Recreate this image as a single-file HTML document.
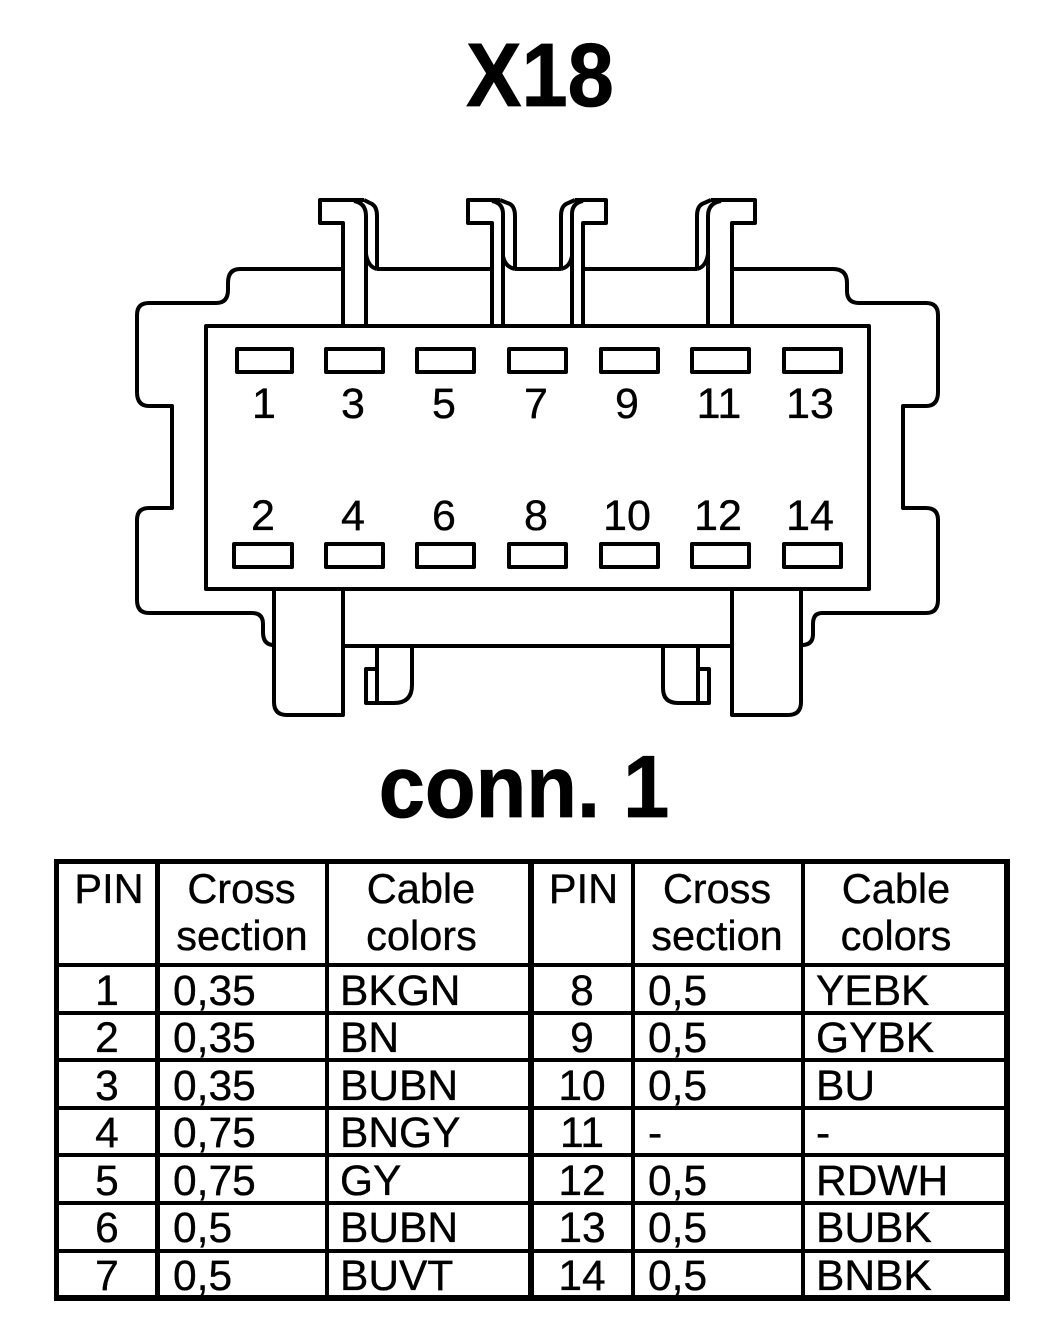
<!DOCTYPE html>
<html><head><meta charset="utf-8"><style>
html,body{margin:0;padding:0;background:#fff}
svg{display:block}
text{font-family:"Liberation Sans",Arial,sans-serif;fill:#000;stroke:#000;stroke-width:.35px}
.t{font-size:42.5px}
.n{font-size:43px;text-anchor:middle}
.c{font-size:42.5px;text-anchor:middle}
.h{font-size:41.5px;text-anchor:middle}
.b{font-size:83px;font-weight:bold;text-anchor:middle;stroke-width:.8px}
</style></head><body>
<svg width="1056" height="1342" viewBox="0 0 1056 1342" xmlns="http://www.w3.org/2000/svg">
<rect width="1056" height="1342" fill="#fff" stroke="none"/>
<text class="b" transform="translate(540,106) scale(1,1.08)">X18</text>
<text class="b" transform="translate(524,817) scale(1,1.06)">conn. 1</text>

<g fill="none" stroke="#000" stroke-width="4" stroke-linejoin="round">
<!-- outer housing -->
<path d="M343 269H240Q228 269 228 283V290Q228 303 216 303H149Q137 303 137 315V392Q137 406 149 406H172V508H149Q137 508 137 520V600Q137 613 149 613H252Q263 613 263 624V632Q263 645 274 645"/>
<path d="M732 269H833Q847 269 847 283V291Q847 303 859 303H926Q938 303 938 315V392Q938 406 926 406H903V508H926Q938 508 938 520V600Q938 613 926 613H822Q813 613 813 624V634Q813 645 802 645"/>
<path d="M377 269H492M515 269H561M583 269H697"/>
<!-- clips -->
<path d="M343 326V223H320V200H364M354 201Q366 203 366 216V326"/>
<path d="M364 200L372 204Q377 207 377 216V267M366 254Q368 267 377 269"/>
<path d="M492 326V223H468V200H500M492 201Q503 203 503 214V326"/>
<path d="M500 200L510 204Q515 207 515 216V267M503 256Q505 267 515 269"/>
<path d="M583 326V223H606V200H575M583 201Q572 203 572 214V326"/>
<path d="M575 200L566 204Q561 207 561 216V267M572 256Q570 267 561 269"/>
<path d="M732 326V223H755V200H711M721 201Q708 203 708 216V326"/>
<path d="M711 200L702 204Q697 207 697 216V267M708 254Q706 267 697 269"/>
<!-- main box -->
<rect x="206" y="326" width="663" height="263"/>
<!-- top slots -->
<rect x="237" y="349" width="55" height="23"/>
<rect x="326" y="349" width="57" height="23"/>
<rect x="417" y="349" width="57" height="23"/>
<rect x="509" y="349" width="57" height="23"/>
<rect x="601" y="349" width="57" height="23"/>
<rect x="692" y="349" width="57" height="23"/>
<rect x="784" y="349" width="57" height="23"/>
<!-- bottom slots -->
<rect x="234" y="544" width="58" height="23"/>
<rect x="326" y="544" width="57" height="23"/>
<rect x="417" y="544" width="57" height="23"/>
<rect x="509" y="544" width="57" height="23"/>
<rect x="601" y="544" width="57" height="23"/>
<rect x="692" y="544" width="57" height="23"/>
<rect x="784" y="544" width="57" height="23"/>
<!-- bottom blocks -->
<path d="M274 589V702Q274 715 287 715H343V589"/>
<path d="M732 589V715H788Q801 715 801 702V589"/>
<path d="M343 646H732"/>
<!-- tabs -->
<path d="M377 646V703M412 646V685Q412 703 394 703H366V669H377"/>
<path d="M698 646V703M663 646V688Q663 703 678 703H709V669H698"/>
</g>

<g>
<text class="n" x="264" y="418">1</text><text class="n" x="353" y="418">3</text><text class="n" x="444" y="418">5</text><text class="n" x="536" y="418">7</text><text class="n" x="627" y="418">9</text><text class="n" x="719" y="418">11</text><text class="n" x="810" y="418">13</text>
<text class="n" x="263" y="530">2</text><text class="n" x="353" y="530">4</text><text class="n" x="444" y="530">6</text><text class="n" x="536" y="530">8</text><text class="n" x="627" y="530">10</text><text class="n" x="718" y="530">12</text><text class="n" x="810" y="530">14</text>
</g>

<!-- table -->
<g fill="#000" stroke="none">
<rect x="54" y="859" width="956" height="5"/>
<rect x="54" y="1295" width="956" height="6"/>
<rect x="54" y="859" width="5" height="442"/>
<rect x="1004" y="859" width="6" height="442"/>
<rect x="155" y="859" width="5" height="442"/>
<rect x="325" y="859" width="4" height="442"/>
<rect x="528" y="859" width="6" height="442"/>
<rect x="631" y="859" width="4" height="442"/>
<rect x="801" y="859" width="4" height="442"/>
<rect x="54" y="963" width="956" height="4"/>
<rect x="54" y="1011" width="956" height="4"/>
<rect x="54" y="1058" width="956" height="4"/>
<rect x="54" y="1106" width="956" height="4"/>
<rect x="54" y="1153" width="956" height="4"/>
<rect x="54" y="1201" width="956" height="4"/>
<rect x="54" y="1249" width="956" height="4"/>
</g>
<g>
<text class="h" x="109" y="903">PIN</text>
<text class="h" x="241.500" y="903">Cross</text><text class="h" x="242" y="950">section</text>
<text class="h" x="421" y="903">Cable</text><text class="h" x="421.500" y="950">colors</text>
<text class="h" x="583.500" y="903">PIN</text>
<text class="h" x="717" y="903">Cross</text><text class="h" x="717" y="950">section</text>
<text class="h" x="896" y="903">Cable</text><text class="h" x="896" y="950">colors</text>

<text class="c" x="107" y="1005">1</text><text class="t" x="173" y="1005">0,35</text><text class="t" x="340" y="1005">BKGN</text>
<text class="c" x="107" y="1052">2</text><text class="t" x="173" y="1052">0,35</text><text class="t" x="340" y="1052">BN</text>
<text class="c" x="107" y="1100">3</text><text class="t" x="173" y="1100">0,35</text><text class="t" x="340" y="1100">BUBN</text>
<text class="c" x="107" y="1147">4</text><text class="t" x="173" y="1147">0,75</text><text class="t" x="340" y="1147">BNGY</text>
<text class="c" x="107" y="1195">5</text><text class="t" x="173" y="1195">0,75</text><text class="t" x="340" y="1195">GY</text>
<text class="c" x="107" y="1242">6</text><text class="t" x="173" y="1242">0,5</text><text class="t" x="340" y="1242">BUBN</text>
<text class="c" x="107" y="1290">7</text><text class="t" x="173" y="1290">0,5</text><text class="t" x="340" y="1290">BUVT</text>

<text class="c" x="582" y="1005">8</text><text class="t" x="648" y="1005">0,5</text><text class="t" x="816" y="1005">YEBK</text>
<text class="c" x="582" y="1052">9</text><text class="t" x="648" y="1052">0,5</text><text class="t" x="816" y="1052">GYBK</text>
<text class="c" x="582" y="1100">10</text><text class="t" x="648" y="1100">0,5</text><text class="t" x="816" y="1100">BU</text>
<text class="c" x="582" y="1147">11</text><text class="t" x="648" y="1147">-</text><text class="t" x="816" y="1147">-</text>
<text class="c" x="582" y="1195">12</text><text class="t" x="648" y="1195">0,5</text><text class="t" x="816" y="1195">RDWH</text>
<text class="c" x="582" y="1242">13</text><text class="t" x="648" y="1242">0,5</text><text class="t" x="816" y="1242">BUBK</text>
<text class="c" x="582" y="1290">14</text><text class="t" x="648" y="1290">0,5</text><text class="t" x="816" y="1290">BNBK</text>
</g>
</svg>
</body></html>
